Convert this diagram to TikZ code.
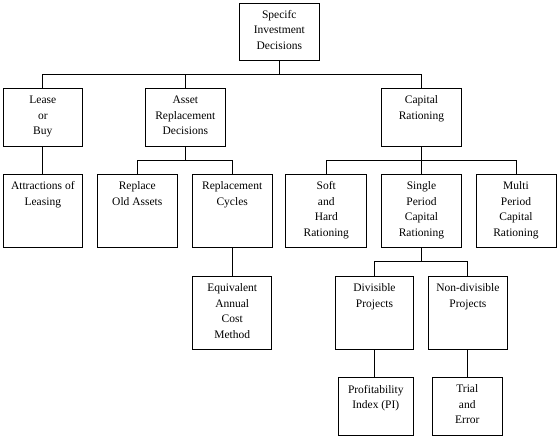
\documentclass[tikz,border=0pt]{standalone}
\usepackage{fontspec}
\setmainfont{Liberation Serif}
\begin{document}
\begin{tikzpicture}[x=1pt,y=-1pt,
  box/.style={draw, line width=1pt, inner sep=0pt, outer sep=0pt},
  txt/.style={inner sep=0pt, align=center, anchor=north, font=\fontsize{11.5}{15.5}\selectfont},
  conn/.style={line width=1pt}]
\useasboundingbox (0,0) rectangle (558,437);
% boxes
\node[box, minimum width=80, minimum height=57] (top) at (279.3,31.8) {};
\node[box, minimum width=79, minimum height=58] (lease) at (42.8,117.3) {};
\node[box, minimum width=80, minimum height=58] (asset) at (185.3,117.3) {};
\node[box, minimum width=80.4, minimum height=58] (cap) at (421.5,117.3) {};
\node[box, minimum width=79, minimum height=73.3] (attr) at (42.8,210.7) {};
\node[box, minimum width=80, minimum height=73.3] (repold) at (137.3,210.7) {};
\node[box, minimum width=80, minimum height=73.3] (repcyc) at (232.2,210.7) {};
\node[box, minimum width=80.7, minimum height=73.3] (soft) at (326.3,210.7) {};
\node[box, minimum width=80.4, minimum height=73.3] (single) at (421.5,210.7) {};
\node[box, minimum width=80, minimum height=73.3] (multi) at (516,210.7) {};
\node[box, minimum width=79, minimum height=73.3] (eac) at (232.2,312.7) {};
\node[box, minimum width=78.4, minimum height=73.3] (div) at (374.5,312.7) {};
\node[box, minimum width=79.2, minimum height=73.3] (nondiv) at (467.9,312.7) {};
\node[box, minimum width=75, minimum height=58.4] (pi) at (375.8,406.5) {};
\node[box, minimum width=70, minimum height=58.4] (trial) at (467.3,406.5) {};
% texts
\node[txt] (ttop) at ([yshift=-6.7]top.north) {Specifc\\Investment\\Decisions};
\node[txt] (tlease) at ([yshift=-7.5]lease.north) {Lease\\or\\Buy};
\node[txt] (tasset) at ([yshift=-7.5]asset.north) {Asset\\Replacement\\Decisions};
\node[txt] (tcap) at ([yshift=-7.5]cap.north) {Capital\\Rationing};
\node[txt] (tattr) at ([yshift=-7.5]attr.north) {Attractions of\\Leasing};
\node[txt] (trepold) at ([yshift=-7.5]repold.north) {Replace\\Old Assets};
\node[txt] (trepcyc) at ([yshift=-7.5]repcyc.north) {Replacement\\Cycles};
\node[txt] (tsoft) at ([yshift=-7.5]soft.north) {Soft\\and\\Hard\\Rationing};
\node[txt] (tsingle) at ([yshift=-7.5]single.north) {Single\\Period\\Capital\\Rationing};
\node[txt] (tmulti) at ([yshift=-7.5]multi.north) {Multi\\Period\\Capital\\Rationing};
\node[txt] (teac) at ([yshift=-7.5]eac.north) {Equivalent\\Annual\\Cost\\Method};
\node[txt] (tdiv) at ([yshift=-7.5]div.north) {Divisible\\Projects};
\node[txt] (tnondiv) at ([yshift=-7.5]nondiv.north) {Non-divisible\\Projects};
\node[txt] (tpi) at ([yshift=-7.5]pi.north) {Profitability\\Index (PI)};
\node[txt] (ttrial) at ([yshift=-7.5]trial.north) {Trial\\and\\Error};
% bus coordinates
\coordinate (b1) at (0,74);
\coordinate (b2) at (0,160.3);
\coordinate (b3) at (0,261.7);
% connectors
\draw[conn] (top.south) -- (top.south |- b1);
\draw[conn] (lease.north) -- (lease.north |- b1) -- (cap.north |- b1) -- (cap.north);
\draw[conn] (asset.north) -- (asset.north |- b1);
\draw[conn] (lease.south) -- (attr.north);
\draw[conn] (asset.south) -- (asset.south |- b2);
\draw[conn] (repold.north) -- (repold.north |- b2) -- (repcyc.north |- b2) -- (repcyc.north);
\draw[conn] (cap.south) -- (cap.south |- b2);
\draw[conn] (soft.north) -- (soft.north |- b2) -- (multi.north |- b2) -- (multi.north);
\draw[conn] (single.north) -- (single.north |- b2);
\draw[conn] (repcyc.south) -- (eac.north);
\draw[conn] (single.south) -- (single.south |- b3);
\draw[conn] (div.north) -- (div.north |- b3) -- (nondiv.north |- b3) -- (nondiv.north);
\draw[conn] (div.south) -- (div.south |- pi.north);
\draw[conn] (nondiv.south) -- (nondiv.south |- trial.north);
\end{tikzpicture}
\end{document}
